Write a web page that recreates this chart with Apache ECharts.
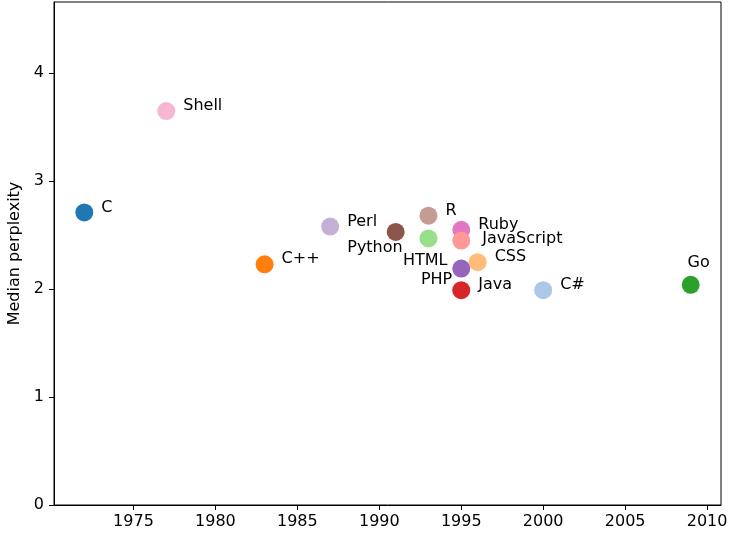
<!DOCTYPE html>
<html>
<head>
<meta charset="utf-8">
<script src="https://cdn.jsdelivr.net/npm/echarts@6/dist/echarts.min.js"></script>
<style>
  html, body { margin: 0; padding: 0; background: #fff; }
  #chart { width: 729px; height: 535px; }
</style>
</head>
<body>
<div id="chart"></div>
<script>
// languages, first release year, median perplexity
const languages = ['C', 'Shell', 'C++', 'Perl', 'Python', 'R', 'HTML', 'Ruby', 'JavaScript', 'CSS', 'PHP', 'Java', 'C#', 'Go']
const years = [1972, 1977, 1983, 1987, 1991, 1993, 1993, 1995, 1995, 1996, 1995, 1995, 2000, 2009]
const perplexity = [2.71, 3.65, 2.23, 2.58, 2.53, 2.68, 2.47, 2.55, 2.45, 2.25, 2.19, 1.99, 1.99, 2.04]
const xTicks = [1975, 1980, 1985, 1990, 1995, 2000, 2005, 2010]
const yTicks = [0, 1, 2, 3, 4]

// tab20 colours per language
const colors = {
  'C': '#1f77b4', 'Shell': '#f7b6d2', 'C++': '#ff7f0e', 'Perl': '#c5b0d5',
  'Python': '#8c564b', 'R': '#c49c94', 'HTML': '#98df8a', 'Ruby': '#e377c2',
  'JavaScript': '#ff9896', 'CSS': '#ffbb78', 'PHP': '#9467bd', 'Java': '#d62728',
  'C#': '#aec7e8', 'Go': '#2ca02c',
}

// label placement relative to marker centre: [dx, dy, align]
const labelPlace = {
  'Python': [7, 16, 'right'],
  'HTML': [19, 22, 'right'],
  'PHP': [-9, 11, 'right'],
  'JavaScript': [21, -2, 'left'],
  'Go': [8, -22, 'center'],
}

const SYM = 18
const chart = echarts.init(document.getElementById('chart'))

const points = languages.map((name, i) => {
  const p = labelPlace[name] || [17, -5, 'left']
  return {
    name: name,
    value: [years[i], perplexity[i]],
    itemStyle: { color: colors[name], opacity: 1 },
    label: {
      show: true,
      formatter: name,
      position: [SYM / 2 + p[0], SYM / 2 + p[1]],
      align: p[2],
      verticalAlign: 'middle',
    },
  }
})

const font = 'DejaVu Sans'

chart.setOption({
  animation: false,
  grid: {
    left: 54, right: 8, top: 2, bottom: 30,
    outerBoundsMode: 'none',
    containLabel: false,
    show: true, borderColor: '#000', borderWidth: 1, backgroundColor: 'transparent',
  },
  xAxis: {
    type: 'value',
    min: 1970.15,
    max: 2010.85,
    splitLine: { show: false },
    axisLine: { show: true, onZero: false, lineStyle: { color: '#000', width: 1 } },
    axisTick: { show: true, length: 5, lineStyle: { color: '#000' }, customValues: xTicks },
    axisLabel: {
      customValues: xTicks, margin: 9,
      formatter: v => String(v),
      color: '#000', fontSize: 16, fontFamily: font,
    },
  },
  yAxis: {
    type: 'value',
    min: 0,
    max: 4.66,
    name: 'Median perplexity',
    nameLocation: 'middle',
    nameGap: 25,
    nameTextStyle: { color: '#000', fontSize: 16, fontFamily: font },
    splitLine: { show: false },
    axisLine: { show: true, onZero: false, lineStyle: { color: '#000', width: 1 } },
    axisTick: { show: true, length: 5, lineStyle: { color: '#000' }, customValues: yTicks },
    axisLabel: {
      customValues: yTicks, margin: 10,
      formatter: v => String(v),
      color: '#000', fontSize: 16, fontFamily: font,
    },
  },
  series: [
    {
      type: 'scatter',
      symbolSize: SYM,
      data: points,
      itemStyle: { opacity: 1 },
      label: { color: '#000', fontSize: 16, fontFamily: font },
      emphasis: { disabled: true },
    },
  ],
})
</script>
</body>
</html>
